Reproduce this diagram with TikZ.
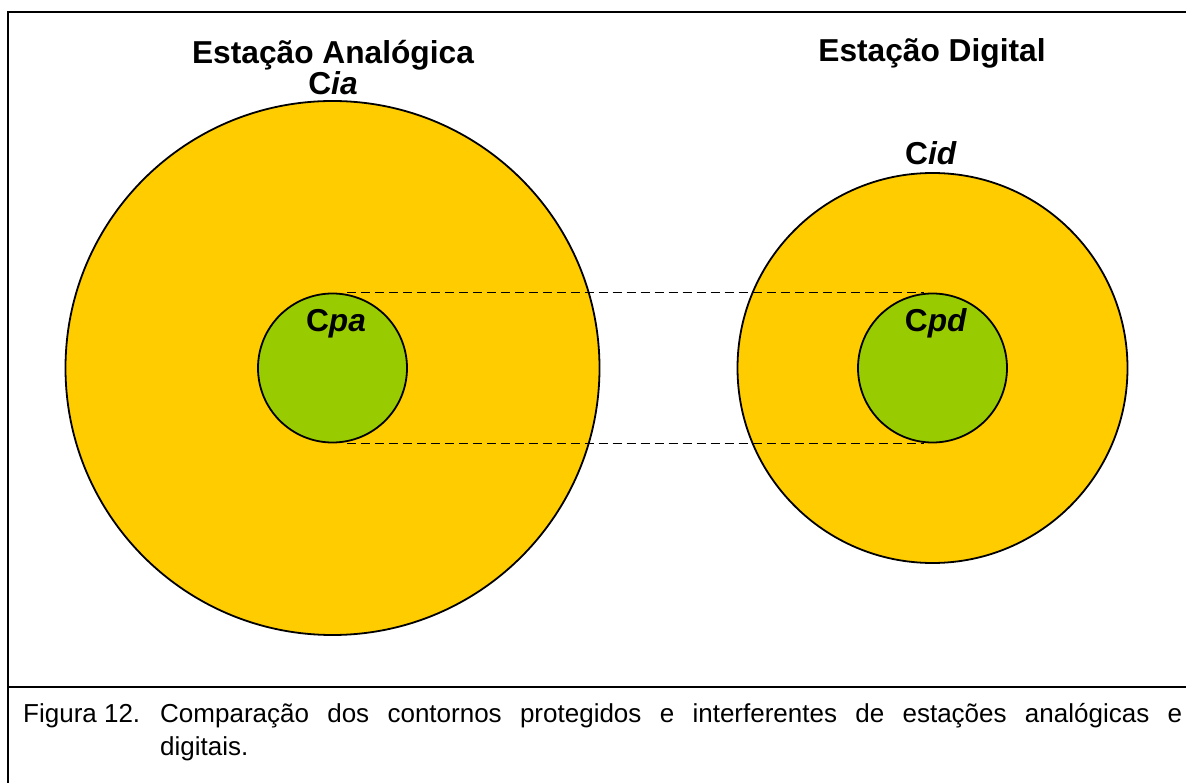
\documentclass[tikz,border=0pt]{standalone}
\usepackage{fontspec}
\setmainfont{Liberation Sans}
\definecolor{ring}{HTML}{FFCC00}
\definecolor{core}{HTML}{99CC00}
\tikzset{
  contour/.style={circle, draw=black, line width=1.8pt, inner sep=0pt},
  title/.style={anchor=base, inner sep=0pt, font=\fontsize{31.7}{38}\selectfont\bfseries},
  lbl/.style={anchor=base, inner sep=0pt, font=\fontsize{31.7}{38}\selectfont\bfseries},
  captext/.style={anchor=base west, inner sep=0pt, font=\fontsize{26}{31}\selectfont},
  frameline/.style={line width=2pt},
  link/.style={line width=1.8pt, dash pattern=on 9pt off 5pt}
}
\begin{document}
\begin{tikzpicture}[x=1pt,y=-1pt]
\useasboundingbox (0,0) rectangle (1186,783);
\fill[white] (0,0) rectangle (1186,783);
% frame
\draw[frameline] (1190,12) -- (8,12) -- (8,790);
\draw[frameline] (8,687) -- (1190,687);
% circles
\node[contour, fill=ring, minimum size=534pt] (ia) at (332.5,368) {};
\node[contour, fill=ring, minimum size=390pt] (id) at (932.5,368) {};
\node[contour, fill=core, minimum size=149pt] (pa) at (332.5,368) {};
\node[contour, fill=core, minimum size=149pt] (pd) at (932.5,368) {};
% dashed connectors
\draw[link] ([xshift=14pt]pa.north) -- ([xshift=-9pt]pd.north);
\draw[link] ([xshift=14pt]pa.south) -- ([xshift=-9pt]pd.south);
% labels
\node[title] (ta) at (333,64) {Estação Analógica};
\node[lbl] (lia) at (333,95) {C\textit{ia}};
\node[title] (td) at (932,62) {Estação Digital};
\node[lbl] (lid) at (931,165) {C\textit{id}};
\node[lbl] (lpa) at (336,332) {C\textit{pa}};
\node[lbl] (lpd) at (936,332) {C\textit{pd}};
% caption
\node[captext] (fig) at (23,722) {Figura 12.};
\node[captext] (c1) at (160,722) {\makebox[1022pt][s]{Comparação dos contornos protegidos e interferentes de estações analógicas e}};
\node[captext] (c2) at (160,755) {digitais.};
\end{tikzpicture}
\end{document}
